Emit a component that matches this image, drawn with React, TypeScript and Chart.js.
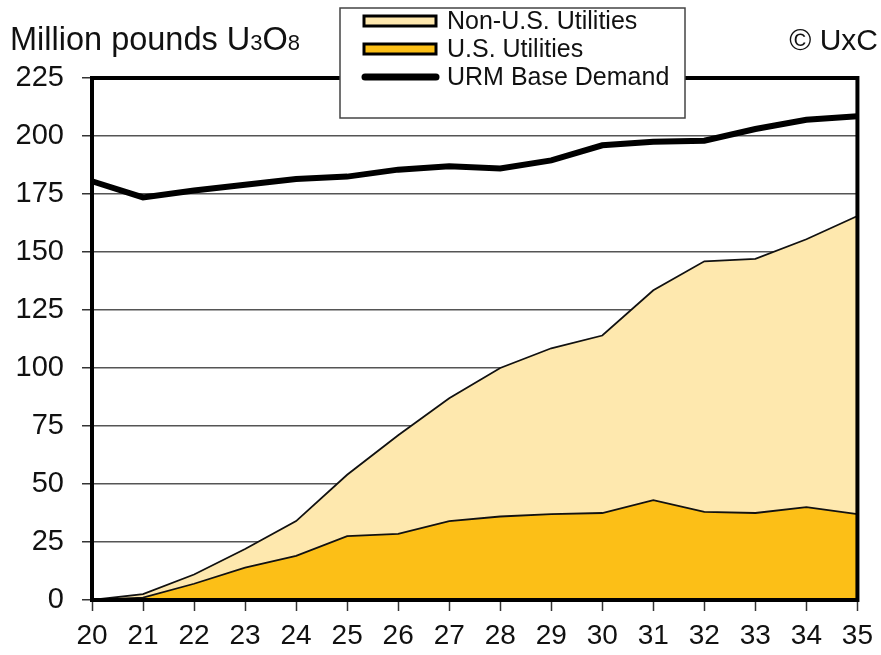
import React, { useEffect, useRef } from 'react';
import { Chart, registerables } from 'chart.js';

Chart.register(...registerables);

// ---- data ----
const years = ['20', '21', '22', '23', '24', '25', '26', '27', '28', '29', '30', '31', '32', '33', '34', '35'];
const usUtilities = [0, 1, 7, 14, 19, 27.5, 28.5, 34, 36, 37, 37.5, 43, 38, 37.5, 40, 37];
const nonUsUtilities = [0, 1.5, 4, 8, 15, 26.5, 42.5, 53, 64, 71.5, 76.5, 90.5, 108, 109.5, 115.5, 128.5];
const baseDemand = [180.5, 173.5, 176.5, 179, 181.5, 182.5, 185.5, 187, 186, 189.5, 196, 197.5, 198, 203, 207, 208.5];
const yTickValues = [0, 25, 50, 75, 100, 125, 150, 175, 200, 225];
const seriesLabels = ['U.S. Utilities', 'Non-U.S. Utilities', 'URM Base Demand'];
const legendOrder = [1, 0, 2];

const FONT = "'Liberation Sans', Arial, Helvetica, sans-serif";
const US_COLOR = '#FCBF17';
const NONUS_COLOR = '#FEE8AE';

const decorPlugin = {
  id: 'decor',
  afterDatasetsDraw(chart: any) {
    const { ctx, chartArea: a } = chart;
    ctx.save();
    ctx.strokeStyle = '#000';
    ctx.lineWidth = 4;
    ctx.strokeRect(a.left, a.top, a.right - a.left, a.bottom - a.top);
    ctx.restore();
  },
  afterDraw(chart: any) {
    const { ctx } = chart;
    ctx.save();
    ctx.fillStyle = '#111';
    ctx.textBaseline = 'alphabetic';
    // title with subscripts
    let x = 10;
    const base = 50;
    const parts: [string, number][] = [['Million pounds U', 32.5], ['3', 22], ['O', 32.5], ['8', 22]];
    for (const [t, s] of parts) {
      ctx.font = `${s}px ${FONT}`;
      ctx.textAlign = 'left';
      ctx.fillText(t, x, base);
      x += ctx.measureText(t).width;
    }
    // copyright
    ctx.font = `30px ${FONT}`;
    ctx.textAlign = 'right';
    ctx.fillText('\u00A9 UxC', 878, 50);

    // legend box
    const bx = 340, by = 8, bw = 345, bh = 110;
    ctx.fillStyle = '#fff';
    ctx.fillRect(bx, by, bw, bh);
    ctx.strokeStyle = '#444';
    ctx.lineWidth = 1.5;
    ctx.strokeRect(bx, by, bw, bh);

    const rows = [21, 49, 77];
    const ds = chart.data.datasets;
    legendOrder.forEach((idx, i) => {
      const d = ds[idx];
      const cy = rows[i];
      if (d.fill === false) {
        ctx.strokeStyle = '#000';
        ctx.lineWidth = 7;
        ctx.lineCap = 'round';
        ctx.beginPath();
        ctx.moveTo(365, cy);
        ctx.lineTo(436, cy);
        ctx.stroke();
      } else {
        ctx.fillStyle = d.backgroundColor;
        ctx.fillRect(364, cy - 5, 72, 10);
        ctx.strokeStyle = '#000';
        ctx.lineWidth = 3;
        ctx.strokeRect(364, cy - 5, 72, 10);
      }
      ctx.fillStyle = '#111';
      ctx.font = `25px ${FONT}`;
      ctx.textAlign = 'left';
      ctx.textBaseline = 'middle';
      ctx.fillText(d.label, 447, cy + 1);
    });
    ctx.restore();
  },
};

export default function App() {
  const ref = useRef<HTMLCanvasElement | null>(null);

  useEffect(() => {
    document.body.style.margin = '0';
    const canvas = ref.current;
    if (!canvas) return;
    const chart = new Chart(canvas, {
      type: 'line',
      data: {
        labels: years,
        datasets: [
          {
            label: seriesLabels[0],
            data: usUtilities,
            stack: 'util',
            fill: 'origin',
            backgroundColor: US_COLOR,
            borderColor: '#111',
            borderWidth: 1.8,
            pointRadius: 0,
            tension: 0,
            order: 1,
          },
          {
            label: seriesLabels[1],
            data: nonUsUtilities,
            stack: 'util',
            fill: '-1',
            backgroundColor: NONUS_COLOR,
            borderColor: '#111',
            borderWidth: 1.8,
            pointRadius: 0,
            tension: 0,
            order: 2,
          },
          {
            label: seriesLabels[2],
            data: baseDemand,
            stack: 'demand',
            fill: false,
            borderColor: '#000',
            backgroundColor: '#000',
            borderWidth: 6,
            pointRadius: 0,
            tension: 0,
            order: 0,
          },
        ],
      } as any,
      options: {
        responsive: false,
        animation: false,
        devicePixelRatio: 1,
        layout: { padding: { top: 78, right: 21, left: 0, bottom: 0 } },
        plugins: {
          legend: { display: false },
          tooltip: { enabled: false },
          title: { display: false },
        },
        scales: {
          x: {
            type: 'category',
            offset: false,
            grid: {
              drawOnChartArea: false,
              drawTicks: true,
              tickLength: 11,
              tickColor: '#333',
              tickWidth: 1.5,
            },
            border: { display: false },
            ticks: {
              color: '#111',
              font: { family: FONT, size: 28 },
              padding: 8,
              maxRotation: 0,
              autoSkip: false,
            },
            afterFit(scale: any) {
              scale.height = 55;
            },
          },
          y: {
            type: 'linear',
            stacked: true,
            min: 0,
            max: 225,
            afterBuildTicks(scale: any) {
              scale.ticks = yTickValues.map((v) => ({ value: v }));
            },
            grid: {
              color: '#555',
              lineWidth: 1.5,
              drawTicks: true,
              tickLength: 10,
              tickColor: '#333',
              tickWidth: 1.5,
            },
            border: { display: false },
            ticks: {
              color: '#111',
              font: { family: FONT, size: 29 },
              padding: 18,
              callback: (v: any) => String(v),
            },
            afterFit(scale: any) {
              scale.width = 92;
            },
          },
        },
      } as any,
      plugins: [decorPlugin],
    });
    return () => chart.destroy();
  }, []);

  return (
    <div style={{ position: 'relative', width: 881, height: 655, background: '#fff' }}>
      <canvas ref={ref} width={881} height={655} style={{ display: 'block', width: 881, height: 655 }} />
    </div>
  );
}
